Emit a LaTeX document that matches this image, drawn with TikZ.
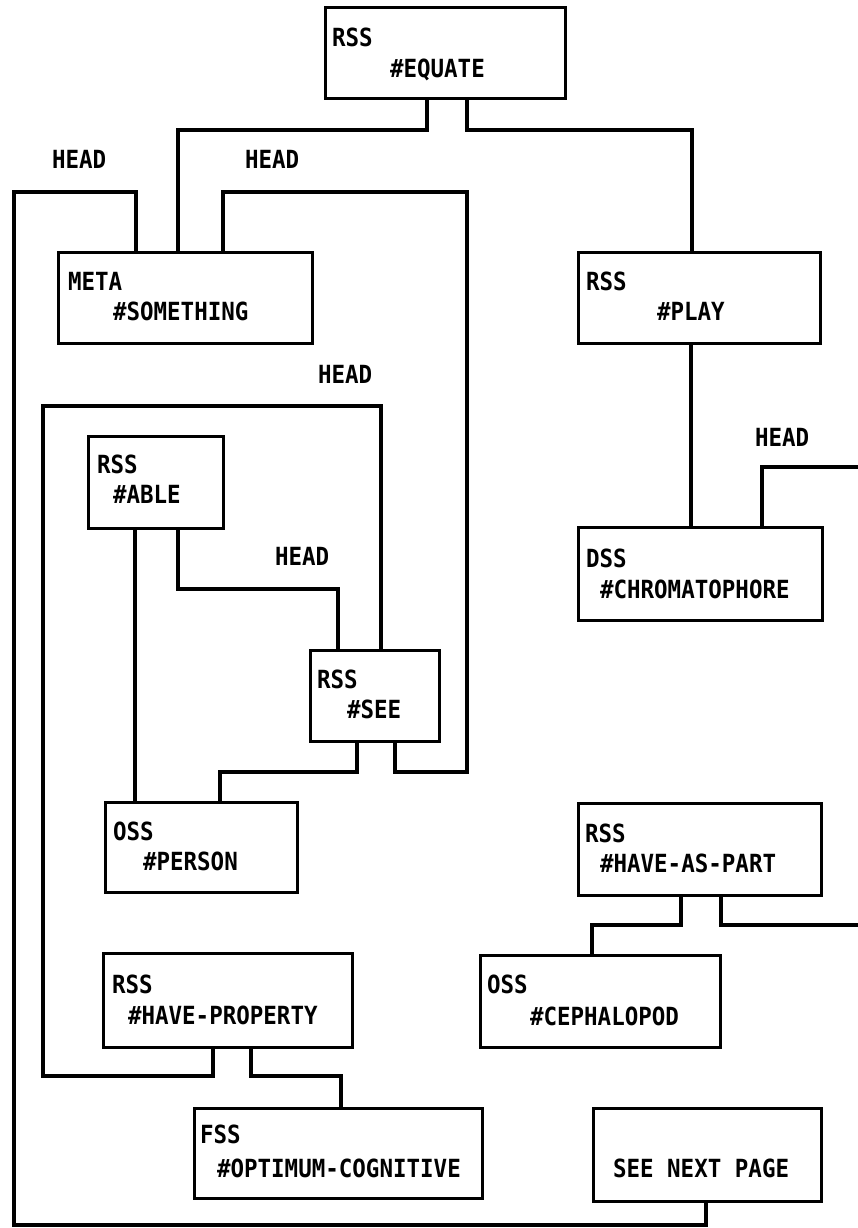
\documentclass[tikz,border=0pt]{standalone}
\usepackage{fontspec}
\newfontfamily\prt{DejaVu Sans Mono}[FakeStretch=0.9]
\tikzset{
  x=1pt, y=-1pt,
  box/.style={draw, line width=3pt, inner sep=0pt, outer sep=0pt},
  lbl/.style={anchor=base west, inner sep=0pt, outer sep=0pt, font=\prt\bfseries\fontsize{25}{29}\selectfont},
  wire/.style={line width=3.1pt, line join=miter}
}
\begin{document}
\begin{tikzpicture}
\useasboundingbox (0,0) rectangle (858,1228);
\fill[white] (0,0) rectangle (858,1228);
% boxes
\node[box, minimum width=240pt, minimum height=91pt] (eq) at (445,53.5) {};
\node[box, minimum width=254pt, minimum height=91pt] (some) at (185,297.5) {};
\node[box, minimum width=242pt, minimum height=91pt] (play) at (699,297.5) {};
\node[box, minimum width=135pt, minimum height=92pt] (able) at (155.5,482) {};
\node[box, minimum width=129pt, minimum height=91pt] (see) at (374.5,695.5) {};
\node[box, minimum width=192pt, minimum height=90pt] (person) at (201,847) {};
\node[box, minimum width=244pt, minimum height=93pt] (chroma) at (700,573.5) {};
\node[box, minimum width=243pt, minimum height=92pt] (hap) at (699.5,849) {};
\node[box, minimum width=249pt, minimum height=94pt] (hprop) at (227.5,1000) {};
\node[box, minimum width=240pt, minimum height=92pt] (ceph) at (600,1001) {};
\node[box, minimum width=288pt, minimum height=90pt] (opt) at (338,1153) {};
\node[box, minimum width=228pt, minimum height=93pt] (next) at (707,1154.5) {};
% texts
\node[lbl] (eqa) at (332,47) {RSS};
\node[lbl] (eqb) at (390,78) {\#EQUATE};
\node[lbl] (somea) at (68,290) {META};
\node[lbl] (someb) at (113,320) {\#SOMETHING};
\node[lbl] (playa) at (586,290) {RSS};
\node[lbl] (playb) at (657,320) {\#PLAY};
\node[lbl] (ablea) at (97,473) {RSS};
\node[lbl] (ableb) at (113,503) {\#ABLE};
\node[lbl] (seea) at (317,688) {RSS};
\node[lbl] (seeb) at (347,718) {\#SEE};
\node[lbl] (persona) at (113,840) {OSS};
\node[lbl] (personb) at (143,870) {\#PERSON};
\node[lbl] (chromaa) at (586,567) {DSS};
\node[lbl] (chromab) at (600,598) {\#CHROMATOPHORE};
\node[lbl] (hapa) at (585,842) {RSS};
\node[lbl] (hapb) at (600,872) {\#HAVE-AS-PART};
\node[lbl] (hpropa) at (112,993) {RSS};
\node[lbl] (hpropb) at (128,1024) {\#HAVE-PROPERTY};
\node[lbl] (cepha) at (487,993) {OSS};
\node[lbl] (cephb) at (530,1025) {\#CEPHALOPOD};
\node[lbl] (opta) at (200,1143) {FSS};
\node[lbl] (optb) at (217,1177) {\#OPTIMUM-COGNITIVE};
\node[lbl] (nexta) at (613,1177) {SEE NEXT PAGE};
\node[lbl] (head1) at (52,168) {HEAD};
\node[lbl] (head2) at (245,168) {HEAD};
\node[lbl] (head3) at (318,383) {HEAD};
\node[lbl] (head4) at (275,565) {HEAD};
\node[lbl] (head5) at (755,446) {HEAD};
% free ends at the right edge
\coordinate (e5) at (858,467);
\coordinate (e6) at (858,925);
% connectors
\draw[wire] (eq.south -| 427,0) |- (178,130) -- (some.north -| 178,0);
\draw[wire] (eq.south -| 467,0) |- (692,130) -- (play.north -| 692,0);
\draw[wire] (some.north -| 136,0) |- (14,192) |- (706,1225) -- (next.south -| 706,0);
\draw[wire] (some.north -| 223,0) |- (467,192) |- (395,772) -- (see.south -| 395,0);
\draw[wire] (see.north -| 381,0) |- (43,406) |- (213,1076) -- (hprop.south -| 213,0);
\draw[wire] (able.south -| 178,0) |- (338,589) -- (see.north -| 338,0);
\draw[wire] (able.south -| 135,0) -- (person.north -| 135,0);
\draw[wire] (see.south -| 357,0) |- (220,772) -- (person.north -| 220,0);
\draw[wire] (play.south -| 691,0) -- (chroma.north -| 691,0);
\draw[wire] (chroma.north -| 762,0) |- (e5);
\draw[wire] (hap.south -| 681,0) |- (592,925) -- (ceph.north -| 592,0);
\draw[wire] (hap.south -| 721,0) |- (e6);
\draw[wire] (hprop.south -| 251,0) |- (341,1076) -- (opt.north -| 341,0);
\end{tikzpicture}
\end{document}
